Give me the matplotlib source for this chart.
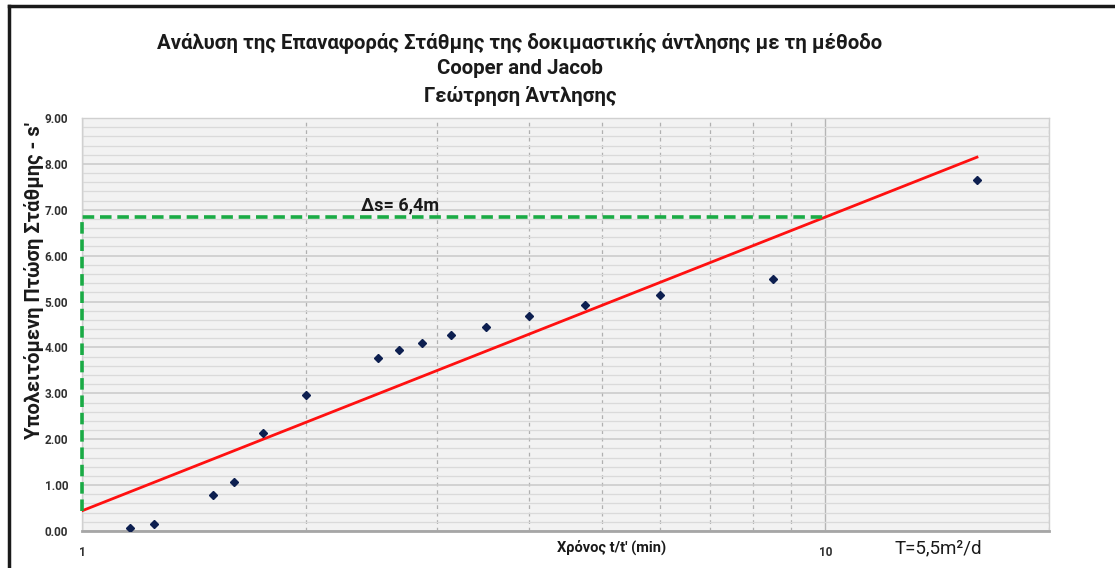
import numpy as np
import matplotlib
matplotlib.use("Agg")
import matplotlib.pyplot as plt
from matplotlib.lines import Line2D
from matplotlib.ticker import FixedLocator, NullFormatter, FixedFormatter

plt.rcParams['font.family'] = ['Roboto', 'DejaVu Sans']

# residual drawdown vs t/t'
t_ratio = [1.16, 1.25, 1.50, 1.60, 1.75, 2.00, 2.50, 2.67, 2.87, 3.14,
           3.50, 4.00, 4.75, 6.00, 8.50, 16.0]
drawdown = [0.06, 0.15, 0.78, 1.07, 2.14, 2.96, 3.77, 3.94, 4.10, 4.27,
            4.44, 4.68, 4.92, 5.14, 5.50, 7.65]

# straight-line fit (Cooper-Jacob): s = s0 + ds * log10(t/t')
s0 = 0.44
ds = 6.4
fit_x = [1.0, 16.0]

title_lines = ["Ανάλυση της Επαναφοράς Στάθμης της δοκιμαστικής άντλησης με τη μέθοδο",
               "Cooper and Jacob",
               "Γεώτρηση Άντλησης"]

W, H = 1115, 568
fig = plt.figure(figsize=(W / 100, H / 100), dpi=100)
ax = fig.add_axes([82 / W, 1 - 531 / H, (1049 - 82) / W, (531 - 118) / H])
ax.set_facecolor('#f2f2f2')

ax.set_xscale('log')
ax.set_xlim(1, 20)
ax.set_ylim(0, 9)

# grid
ax.xaxis.set_major_locator(FixedLocator([1, 10]))
ax.xaxis.set_major_formatter(FixedFormatter(['1', '10']))
ax.xaxis.set_minor_locator(FixedLocator([2, 3, 4, 5, 6, 7, 8, 9, 20]))
ax.xaxis.set_minor_formatter(NullFormatter())
ax.set_yticks(np.arange(0, 9.01, 1))
ax.set_yticks(np.arange(0, 9.01, 0.2), minor=True)
ax.set_yticklabels([f"{v:.2f}" for v in np.arange(0, 9.01, 1)])

ax.grid(True, which='major', axis='y', color='#c9c9c9', lw=1.1)
ax.grid(True, which='minor', axis='y', color='#dadada', lw=0.9)
ax.grid(True, which='major', axis='x', color='#b5b5b5', lw=1.0)
ax.grid(True, which='minor', axis='x', color='#b0b0b0', lw=0.9, ls=(0, (3, 3)))
ax.set_axisbelow(True)

ax.tick_params(which='both', length=0)
ax.tick_params(axis='y', pad=10, labelsize=8.5)
ax.tick_params(axis='x', pad=11, labelsize=8.5)
for lab in ax.get_xticklabels() + ax.get_yticklabels():
    lab.set_fontweight('bold')
    lab.set_color('#303030')

for side in ['top', 'right', 'left']:
    ax.spines[side].set_color('#d0d0d0')
    ax.spines[side].set_linewidth(1.0)
ax.spines['bottom'].set_color('#a6a6a6')
ax.spines['bottom'].set_linewidth(2.0)

# data and fitted line
ax.plot(t_ratio, drawdown, ls='none', marker='D', ms=4.5, color='#0d1f50', zorder=4)
fit_y = [s0 + ds * np.log10(x) for x in fit_x]
ax.plot(fit_x, fit_y, color='#ff1010', lw=2.0, zorder=3)

# one log cycle construction
s_at_10 = s0 + ds * np.log10(10)
ax.plot([1, 1, 10], [s0, s_at_10, s_at_10], color='#1aab45', lw=2.6,
        ls=(0, (3.2, 1.6)), zorder=5, clip_on=False)
ax.text(2.68, s_at_10 + 0.06, f"Δs= {ds:.1f}m".replace('.', ','), ha='center',
        va='bottom', fontsize=13, fontweight='bold', color='#1a1a1a')

ax.set_ylabel("Υπολειτόμενη Πτώση Στάθμης - s'", fontsize=14.5,
              fontweight='bold', color='#1a1a1a')
ax.yaxis.set_label_coords((44 - 82) / (1049 - 82), (531 - 280) / (531 - 118))

fig.text(612 / W, 1 - 547 / H, "Χρόνος t/t' (min)", ha='center', va='center',
         fontsize=10.5, fontweight='bold', color='#1a1a1a')
fig.text(938 / W, 1 - 548 / H, "T=5,5m²/d", ha='center', va='center',
         fontsize=13.5, color='#1a1a1a')

for txt, yp in zip(title_lines, [43, 69, 96]):
    fig.text(520 / W, 1 - yp / H, txt, ha='center', va='center',
             fontsize=14.7, fontweight='bold', color='#1a1a1a')

# frame edges
fig.add_artist(Line2D([9 / W, 1], [1 - 6 / H, 1 - 6 / H], transform=fig.transFigure,
                      color='#1a1a1a', lw=2.5))
fig.add_artist(Line2D([9 / W, 9 / W], [0, 1 - 6 / H], transform=fig.transFigure,
                      color='#1a1a1a', lw=2.5))

fig.savefig('out.png', dpi=100)
